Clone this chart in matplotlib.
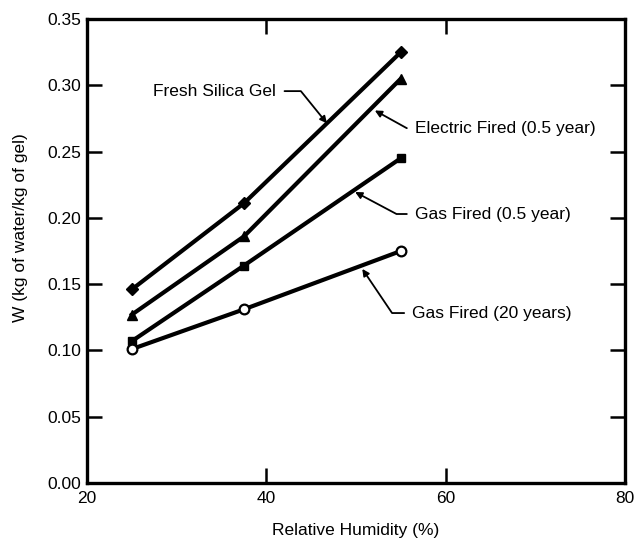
import matplotlib
matplotlib.use("Agg")
import matplotlib.pyplot as plt

plt.rcParams['font.family'] = ['Liberation Sans', 'DejaVu Sans']

# Data
humidity = [25, 37.5, 55]
fresh = [0.146, 0.211, 0.325]
electric = [0.127, 0.186, 0.305]
gas_half = [0.107, 0.164, 0.245]
gas_20 = [0.101, 0.131, 0.175]

x_ticks = [20, 40, 60, 80]
y_ticks = [0.00, 0.05, 0.10, 0.15, 0.20, 0.25, 0.30, 0.35]
y_tick_labels = ["0.00", "0.05", "0.10", "0.15", "0.20", "0.25", "0.30", "0.35"]

fig = plt.figure(figsize=(6.39, 5.47), dpi=100)
ax = fig.add_axes([87/639, 1-483/547, (625-87)/639, (483-19)/547])

lw = 3.0
ax.plot(humidity, fresh, color='black', lw=lw, marker='D', ms=6.5, mfc='black', zorder=3)
ax.plot(humidity, electric, color='black', lw=lw, marker='^', ms=6.5, mfc='black', zorder=3)
ax.plot(humidity, gas_half, color='black', lw=lw, marker='s', ms=6, mfc='black', zorder=3)
ax.plot(humidity, gas_20, color='black', lw=lw, marker='o', ms=7, mfc='white', mew=1.6, zorder=4)

ax.set_xlim(20, 80)
ax.set_ylim(0, 0.35)
ax.set_xticks(x_ticks)
ax.set_yticks(y_ticks)
ax.set_yticklabels(y_tick_labels)

for s in ax.spines.values():
    s.set_linewidth(2.4)

fs = 12.5
ax.tick_params(direction='in', length=11, width=1.8, top=True, right=True,
               labelsize=fs, pad=4)
ax.tick_params(axis='x', pad=6)

ax.set_xlabel("Relative Humidity (%)", fontsize=fs, labelpad=12)
ax.set_ylabel("W (kg of water/kg of gel)", fontsize=fs)
ax.yaxis.set_label_coords(-0.11, 0.55)

arrow_kw = dict(arrowstyle='-|>', color='black', lw=1.3, mutation_scale=10,
                shrinkA=4, shrinkB=0)

ax.annotate("Fresh Silica Gel", xy=(46.76, 0.2713), xytext=(41.1, 0.2956),
            ha='right', va='center', fontsize=fs,
            arrowprops=dict(connectionstyle='angle,angleA=0,angleB=-51,rad=0', **arrow_kw))
ax.annotate("Electric Fired (0.5 year)", xy=(52.1, 0.281), xytext=(56.6, 0.2677),
            ha='left', va='center', fontsize=fs,
            arrowprops=dict(connectionstyle='angle,angleA=0,angleB=151,rad=0', **arrow_kw))
ax.annotate("Gas Fired (0.5 year)", xy=(49.9, 0.2195), xytext=(56.6, 0.2029),
            ha='left', va='center', fontsize=fs,
            arrowprops=dict(connectionstyle='angle,angleA=0,angleB=152,rad=0', **arrow_kw))
ax.annotate("Gas Fired (20 years)", xy=(50.7, 0.1615), xytext=(56.3, 0.1282),
            ha='left', va='center', fontsize=fs,
            arrowprops=dict(connectionstyle='angle,angleA=0,angleB=124,rad=0', **arrow_kw))

fig.savefig("out.png", dpi=100)
